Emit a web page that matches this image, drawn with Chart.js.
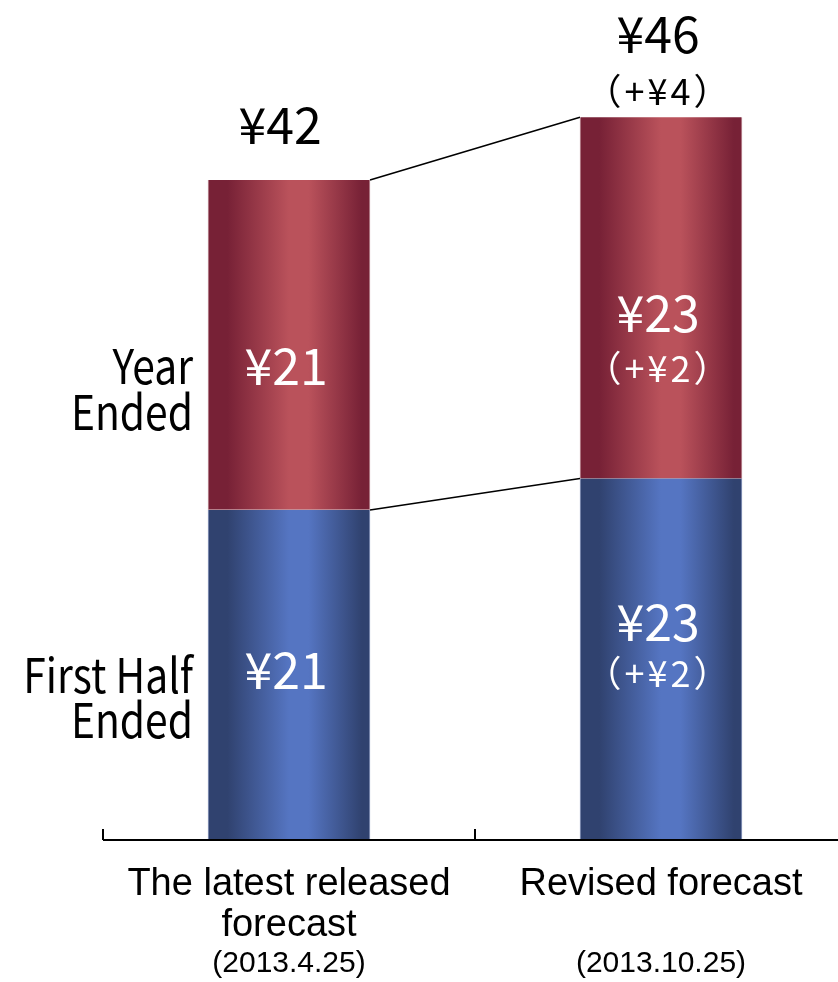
<!DOCTYPE html>
<html>
<head>
<meta charset="utf-8">
<script src="https://cdn.jsdelivr.net/npm/chart.js@4/dist/chart.umd.min.js"></script>
<style>
  html, body { margin: 0; padding: 0; background: #fff; }
  #wrap { width: 838px; height: 982px; }
</style>
</head>
<body>
<div id="wrap"><canvas id="chart" width="838" height="982"></canvas></div>
<script>
// data
var categoryLines = [['The latest released', 'forecast'], ['Revised forecast', '']];
var categoryDates = ['(2013.4.25)', '(2013.10.25)'];
var firstHalf = [21, 23];
var yearEnd = [21, 23];
var totals = [42, 46];
var firstHalfDiff = ['', '（+¥2）'];
var yearEndDiff = ['', '（+¥2）'];
var totalDiff = ['', '（+¥4）'];
var rowLabels = { yearEnd: ['Year', 'Ended'], firstHalf: ['First Half', 'Ended'] };

var JP = '"Noto Sans CJK JP", "DejaVu Sans", sans-serif';
var SANS = '"Liberation Sans", Arial, sans-serif';

function barGradient(dark, light) {
    return function (ctx) {
        var chart = ctx.chart;
        if (!chart.chartArea || !ctx.raw) return light;
        var cx = chart.scales.x.getPixelForValue(ctx.raw.x);
        var g = chart.ctx.createLinearGradient(cx - 81, 0, cx + 81, 0);
        g.addColorStop(0, dark);
        g.addColorStop(0.12, dark);
        g.addColorStop(0.5, light);
        g.addColorStop(0.62, light);
        g.addColorStop(0.95, dark);
        g.addColorStop(1, dark);
        return g;
    };
}

function toPoints(arr) {
    return arr.map(function (v, i) { return { x: i, y: v }; });
}

function diffText(ctx, txt, x, y) {
    ctx.save();
    ctx.font = '36px ' + JP;
    ctx.letterSpacing = '3px';
    ctx.fillText(txt, x + 1, y);
    ctx.restore();
}

function narrowText(ctx, txt, x, y, sx) {
    ctx.save();
    ctx.translate(x, y);
    ctx.scale(sx, 1);
    ctx.fillText(txt, 0, 0);
    ctx.restore();
}

// connector lines, value labels, axis, category labels
var decorations = {
    id: 'decorations',
    afterDatasetsDraw: function (chart) {
        var ctx = chart.ctx;
        var xs = chart.scales.x, ys = chart.scales.y;
        var blue = chart.getDatasetMeta(0).data;
        var red = chart.getDatasetMeta(1).data;

        // connectors
        ctx.save();
        ctx.strokeStyle = '#000';
        ctx.lineWidth = 1.6;
        ctx.beginPath();
        ctx.moveTo(red[0].x + red[0].width / 2, red[0].y);
        ctx.lineTo(red[1].x - red[1].width / 2, red[1].y);
        ctx.moveTo(blue[0].x + blue[0].width / 2, blue[0].y);
        ctx.lineTo(blue[1].x - blue[1].width / 2, blue[1].y);
        ctx.stroke();

        // axis line and inner ticks
        var base = ys.getPixelForValue(0);
        ctx.lineWidth = 2;
        ctx.beginPath();
        ctx.moveTo(xs.getPixelForValue(-0.5), base);
        ctx.lineTo(chart.width, base);
        [-0.5, 0.5, 1.5].forEach(function (t) {
            var px = xs.getPixelForValue(t);
            ctx.moveTo(px, base);
            ctx.lineTo(px, base - 11);
        });
        ctx.stroke();

        ctx.textAlign = 'center';
        ctx.textBaseline = 'middle';

        for (var i = 0; i < 2; i++) {
            var cx = xs.getPixelForValue(i) - 3;
            var midB = ys.getPixelForValue(firstHalf[i] / 2);
            var midR = ys.getPixelForValue(firstHalf[i] + yearEnd[i] / 2);

            // values inside bars
            ctx.fillStyle = '#fff';
            ctx.font = '50px ' + JP;
            if (firstHalfDiff[i]) {
                ctx.fillText('¥' + firstHalf[i], cx, midB - 37);
                diffText(ctx, firstHalfDiff[i], cx, midB + 14);
            } else {
                ctx.fillText('¥' + firstHalf[i], cx, midB - 5);
            }
            ctx.font = '50px ' + JP;
            if (yearEndDiff[i]) {
                ctx.fillText('¥' + yearEnd[i], cx, midR + 15);
                diffText(ctx, yearEndDiff[i], cx, midR + 70);
            } else {
                ctx.fillText('¥' + yearEnd[i], cx, midR + 21);
            }

            // totals above
            var top = ys.getPixelForValue(totals[i]);
            ctx.fillStyle = '#000';
            ctx.font = '50px ' + JP;
            if (totalDiff[i]) {
                ctx.fillText('¥' + totals[i], cx, top - 83);
                diffText(ctx, totalDiff[i], cx, top - 26);
            } else {
                ctx.fillText('¥' + totals[i], cx - 6, top - 55);
            }

            // category labels
            var lx = xs.getPixelForValue(i);
            ctx.font = '38px ' + SANS;
            narrowText(ctx, categoryLines[i][0], lx, base + 45, 1);
            narrowText(ctx, categoryLines[i][1], lx, base + 86, 1);
            ctx.font = '30px ' + SANS;
            narrowText(ctx, categoryDates[i], lx, base + 124, 1);
        }

        // row labels on the left
        ctx.fillStyle = '#000';
        ctx.textAlign = 'right';
        ctx.font = '48px ' + JP;
        var lx0 = xs.getPixelForValue(-0.5) + 90;
        narrowText(ctx, rowLabels.yearEnd[0], lx0, 366, 0.85);
        narrowText(ctx, rowLabels.yearEnd[1], lx0, 412, 0.85);
        narrowText(ctx, rowLabels.firstHalf[0], lx0, 675, 0.85);
        narrowText(ctx, rowLabels.firstHalf[1], lx0, 720, 0.85);
        ctx.restore();
    }
};

new Chart(document.getElementById('chart'), {
    type: 'bar',
    data: {
        datasets: [
            {
                label: 'First Half Ended',
                data: toPoints(firstHalf),
                backgroundColor: barGradient('#30426f', '#5575c2'),
                borderColor: '#9aa6c8',
                borderWidth: { left: 1, right: 1, top: 0, bottom: 0 },
                borderSkipped: false,
                barThickness: 162
            },
            {
                label: 'Year Ended',
                data: toPoints(yearEnd),
                backgroundColor: barGradient('#772136', '#ba525b'),
                borderColor: '#c9a0a8',
                borderWidth: { left: 1, right: 1, top: 0, bottom: 1 },
                borderSkipped: false,
                barThickness: 162
            }
        ]
    },
    options: {
        responsive: false,
        animation: false,
        layout: { padding: { left: 103, right: 0, top: 0, bottom: 142 } },
        plugins: { legend: { display: false }, tooltip: { enabled: false } },
        scales: {
            x: { type: 'linear', display: false, stacked: true, offset: false, min: -0.5, max: -0.5 + 735 / 372 },
            y: { display: false, stacked: true, min: 0, max: 840 / 15.714 }
        }
    },
    plugins: [decorations]
});
</script>
</body>
</html>
